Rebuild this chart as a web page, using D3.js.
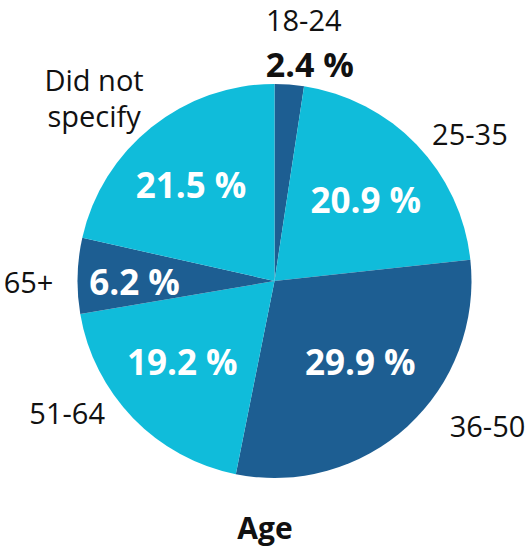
<!DOCTYPE html>
<html>
<head>
<meta charset="utf-8">
<script src="https://cdn.jsdelivr.net/npm/d3@7"></script>
<style>
  html, body { margin: 0; padding: 0; background: #fff; }
  text { font-family: "Open Sans", sans-serif; }
</style>
</head>
<body>
<div id="chart"></div>
<script>
// Age distribution (percent), clockwise from 12 o'clock
const ageGroups = ["18-24", "25-35", "36-50", "51-64", "65+", "Did not specify"];
const agePercent = [2.4, 20.9, 29.9, 19.2, 6.2, 21.5];
const sliceShade = ["dark", "light", "dark", "light", "dark", "light"];

const width = 529, height = 548;
const cx = 274.5, cy = 281, radius = 197;

const svg = d3.select("#chart")
    .append("svg")
    .attr("width", width)
    .attr("height", height);

const g = svg.append("g")
    .attr("transform", `translate(${cx},${cy})`);

const color = d3.scaleOrdinal()
    .domain(["dark", "light"])
    .range(["#1d5e92", "#10bcda"]);

const data = ageGroups.map((name, i) => ({name, value: agePercent[i], shade: sliceShade[i]}));

const pie = d3.pie()
    .sort(null)
    .value(d => d.value);
const arcs = pie(data);

const arc = d3.arc().innerRadius(0).outerRadius(radius);

g.selectAll("path")
    .data(arcs)
    .enter()
    .append("path")
    .attr("d", arc)
    .attr("fill", d => color(d.data.shade));

// point at angle (radians from 12 o'clock, clockwise) and distance
const polar = (a, r) => [Math.sin(a) * r, -Math.cos(a) * r];
const midAngle = d => (d.startAngle + d.endAngle) / 2;
const deg = Math.PI / 180;

// inside percentage labels: [angle shift in degrees, distance from centre]
// (the tiny first slice gets its label outside)
const innerNudge = {
    "25-35": [2.2, 122],
    "36-50": [-4.2, 118],
    "51-64": [2.7, 123],
    "65+": [-2.2, 140],
    "Did not specify": [-2.4, 127]
};
g.selectAll(".pct")
    .data(arcs.filter(d => d.index > 0))
    .enter()
    .append("text")
    .attr("class", "pct")
    .attr("transform", d => {
        const n = innerNudge[d.data.name];
        const [x, y] = polar(midAngle(d) + n[0] * deg, n[1]);
        return `translate(${x},${y})`;
    })
    .attr("text-anchor", "middle")
    .attr("dy", "0.36em")
    .attr("font-weight", "bold")
    .attr("font-size", "35px")
    .attr("fill", "white")
    .text(d => `${d.value} %`);

// outside category labels
const outerNudge = {
    "18-24": [4, 244],
    "25-35": [7, 244],
    "36-50": [-13.2, 258],
    "51-64": [11.6, 246],
    "65+": [-1.8, 246],
    "Did not specify": [-6.7, 262]
};
const outer = g.selectAll(".cat")
    .data(arcs)
    .enter()
    .append("text")
    .attr("class", "cat")
    .attr("transform", d => {
        const n = outerNudge[d.data.name];
        const [x, y] = polar(midAngle(d) + n[0] * deg, n[1]);
        return `translate(${x},${y})`;
    })
    .attr("text-anchor", "middle")
    .attr("font-size", "29px")
    .attr("fill", "#111");

outer.each(function (d) {
    const t = d3.select(this);
    if (d.data.name === "Did not specify") {
        t.append("tspan").attr("x", 6).attr("dy", "-0.2em").text("Did not");
        t.append("tspan").attr("x", 6).attr("dy", "1.22em").text("specify");
    } else if (d.index === 0) {
        t.append("tspan").attr("x", -6).attr("dy", "-0.3em").text(d.data.name);
        t.append("tspan").attr("x", 0).attr("dy", "1.35em")
            .attr("font-weight", "bold").attr("font-size", "34px")
            .text(`${d.data.value} %`);
    } else {
        t.append("tspan").attr("x", 0).attr("dy", "0.36em").text(d.data.name);
    }
});

// title below
svg.append("text")
    .attr("x", 265)
    .attr("y", 539)
    .attr("text-anchor", "middle")
    .attr("font-weight", "bold")
    .attr("font-size", "30px")
    .attr("fill", "#111")
    .text("Age");
</script>
</body>
</html>
